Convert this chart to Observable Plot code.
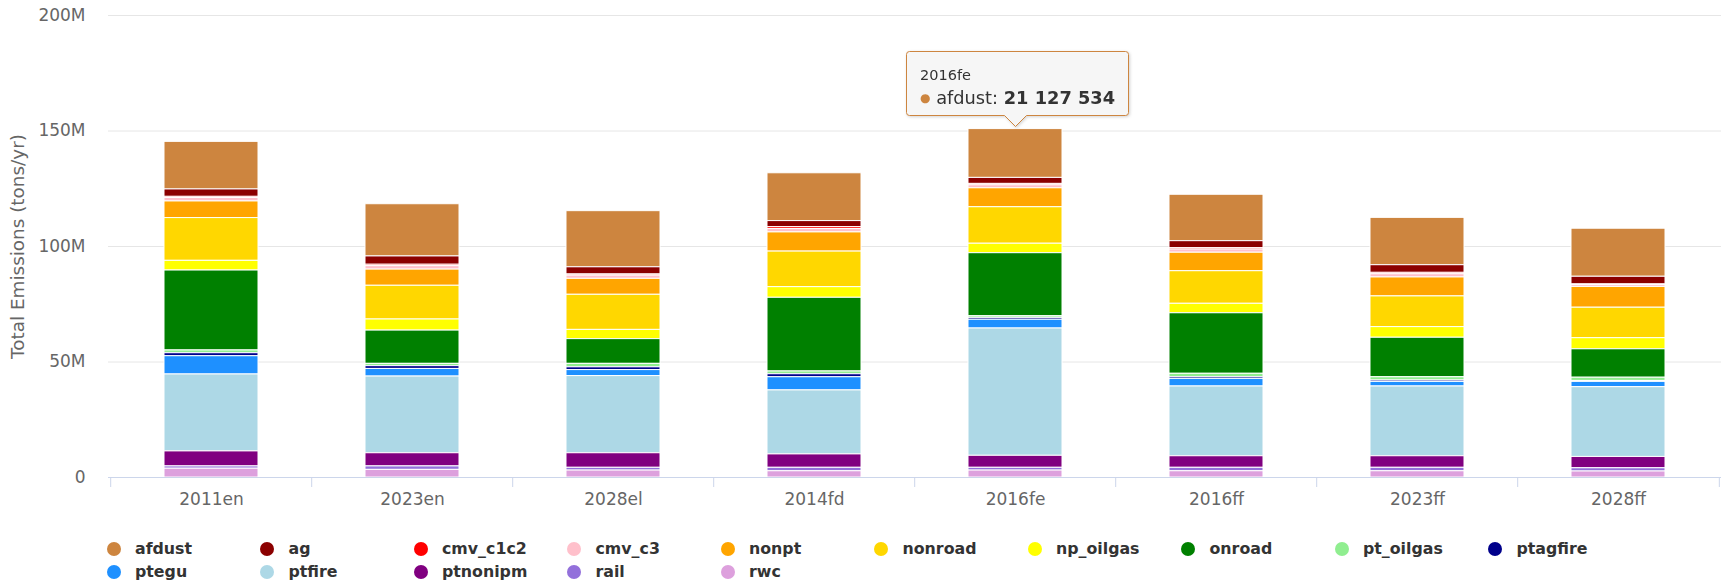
<!DOCTYPE html>
<html><head><meta charset="utf-8">
<script src="https://cdn.jsdelivr.net/npm/d3@7"></script>
<script src="https://cdn.jsdelivr.net/npm/@observablehq/plot@0.6"></script>
<style>
body{margin:0;background:#fff;font-family:"DejaVu Sans",sans-serif;}
#wrap{position:relative;width:1728px;height:583px;overflow:hidden;background:#fff}
#wrap svg.plot{position:absolute;left:0;top:0}
#legend{position:absolute;left:106.5px;top:537px;display:grid;grid-template-columns:repeat(10,153.5px);grid-auto-rows:23px}
.item{display:flex;align-items:center;font-weight:bold;font-size:15.8px;color:#333;white-space:nowrap}
.sym{width:14px;height:14px;border-radius:50%;margin-right:14.5px;flex:none}
#tip{position:absolute;filter:drop-shadow(1px 1px 1.5px rgba(0,0,0,0.18))}
</style></head><body><div id="wrap"></div>
<script>
// ---- data (values in millions of tons/yr) ----
const categories = ["2011en","2023en","2028el","2014fd","2016fe","2016ff","2023ff","2028ff"];
const sectors = ["afdust","ag","cmv_c1c2","cmv_c3","nonpt","nonroad","np_oilgas","onroad","pt_oilgas","ptagfire","ptegu","ptfire","ptnonipm","rail","rwc"];
const colors  = ["#CD853F","#8B0000","#FF0000","#FFC0CB","#FFA500","#FFD700","#FFFF00","#008000","#90EE90","#00008B","#1E90FF","#ADD8E6","#800080","#9370DB","#DDA0DD"];
const afdust    = [20.6, 22.6, 24.3, 20.7, 21.127534, 20.1, 20.5, 20.8];
const ag        = [3.2, 3.6, 3.1, 2.6, 2.6, 3.0, 3.3, 3.3];
const cmv_c1c2  = [0.5, 0.6, 0.5, 0.8, 0.6, 0.6, 0.6, 0.3];
const cmv_c3    = [1.5, 1.5, 1.4, 1.5, 1.3, 1.4, 1.4, 0.8];
const nonpt     = [7.2, 7.0, 6.9, 8.3, 8.2, 8.0, 8.2, 9.0];
const nonroad   = [18.5, 14.6, 15.2, 15.4, 15.8, 14.1, 13.3, 13.2];
const np_oilgas = [4.2, 4.8, 4.0, 4.6, 4.1, 4.1, 4.6, 4.8];
const onroad    = [34.6, 14.4, 10.7, 31.9, 27.3, 26.2, 17.1, 12.3];
const pt_oilgas = [1.2, 1.0, 1.5, 1.2, 0.7, 1.5, 1.4, 1.4];
const ptagfire  = [1.3, 1.2, 1.2, 1.3, 0.8, 0.7, 0.6, 0.4];
const ptegu     = [7.9, 3.3, 2.6, 5.7, 3.8, 3.3, 2.0, 2.3];
const ptfire    = [33.3, 33.2, 33.4, 27.7, 55.1, 30.2, 30.2, 30.2];
const ptnonipm  = [6.5, 5.7, 6.3, 5.8, 5.2, 5.0, 5.0, 4.9];
const rail      = [1.0, 1.5, 1.2, 1.5, 1.2, 1.5, 1.5, 1.4];
const rwc       = [3.8, 3.3, 3.0, 2.7, 3.0, 2.7, 2.7, 2.6];
const yTicks = [0, 50e6, 100e6, 150e6, 200e6];
const yTitle = "Total Emissions (tons/yr)";
const tooltipCategory = "2016fe";
const tooltipSector = "afdust";

const series = {afdust, ag, cmv_c1c2, cmv_c3, nonpt, nonroad, np_oilgas, onroad, pt_oilgas, ptagfire, ptegu, ptfire, ptnonipm, rail, rwc};
const rows = [];
for (const s of sectors) series[s].forEach((v, i) => rows.push({cat: categories[i], sector: s, value: Math.round(v * 1e6)}));

const W = 1728, H = 530, ML = 108, MR = 7, MT = 15, MB = 53;
const step = (W - ML - MR) / categories.length;
const fmtY = d => d === 0 ? "0" : (d / 1e6) + "M";

const chart = Plot.plot({
  width: W, height: H, marginLeft: ML, marginRight: MR, marginTop: MT, marginBottom: MB,
  style: {fontFamily: "DejaVu Sans, sans-serif", fontSize: "17px", color: "#666", background: "transparent", overflow: "visible"},
  x: {domain: categories, paddingInner: 0.53, paddingOuter: 0.265, label: null},
  y: {domain: [0, 200e6], label: null},
  color: {domain: sectors, range: colors},
  marks: [
    Plot.gridY(yTicks, {stroke: "#e6e6e6", strokeOpacity: 1, strokeWidth: 1}),
    Plot.barY(rows, Plot.stackY({x: "cat", y: "value", fill: "sector", order: [...sectors].reverse(), stroke: "white", strokeWidth: 1})),
    Plot.ruleY([0], {stroke: "#ccd6eb", strokeWidth: 1}),
    Plot.axisX(categories, {tickSize: 10, tickFormat: () => "", dx: -step / 2, stroke: "#ccd6eb"}),
    Plot.axisX([categories[categories.length - 1]], {tickSize: 10, tickFormat: () => "", dx: step / 2, stroke: "#ccd6eb"}),
    Plot.axisX(categories, {tickSize: 0, tickPadding: 15, fill: "#666", fontSize: 17}),
    Plot.axisY(yTicks, {tickSize: 0, tickPadding: 23, tickFormat: fmtY, fill: "#666", fontSize: 17, label: null}),
    Plot.text([yTitle], {frameAnchor: "left", textAnchor: "middle", lineAnchor: "middle", rotate: -90, dx: -90, fontSize: 18.4, fill: "#666"})
  ]
});
chart.classList.add("plot");
const wrap = document.getElementById("wrap");
wrap.appendChild(chart);

// legend
const legend = document.createElement("div");
legend.id = "legend";
sectors.forEach((s, i) => {
  const it = document.createElement("div");
  it.className = "item";
  it.innerHTML = `<span class="sym" style="background:${colors[i]}"></span><span>${s}</span>`;
  legend.appendChild(it);
});
wrap.appendChild(legend);

// tooltip positioned via scales
const xs = chart.scale("x"), ys = chart.scale("y");
const ci = categories.indexOf(tooltipCategory);
const total = sectors.reduce((a, s) => a + Math.round(series[s][ci] * 1e6), 0);
const cx = xs.apply(tooltipCategory) + xs.bandwidth / 2;
const topY = ys.apply(total);
const val = Math.round(series[tooltipSector][ci] * 1e6);
const fmtVal = d3.formatLocale({decimal: ".", thousands: " ", grouping: [3], currency: ["", ""]}).format(",");
const tw = 222, th = 64, pointer = 11, r = 3;
const leftOff = 109;
const apexY = topY - 2;
const boxTop = apexY - pointer - th;
const tip = document.createElementNS("http://www.w3.org/2000/svg", "svg");
tip.id = "tip";
tip.setAttribute("width", tw + 4); tip.setAttribute("height", th + pointer + 4);
tip.style.left = (cx - leftOff - 0.5) + "px"; tip.style.top = (boxTop - 0.5) + "px";
const px = leftOff + 0.5, by = th + 0.5, x0 = 0.5, y0 = 0.5, x1 = tw + 0.5;
const d = `M${x0 + r},${y0} H${x1 - r} Q${x1},${y0} ${x1},${y0 + r} V${by - r} Q${x1},${by} ${x1 - r},${by} H${px + pointer} L${px},${by + pointer} L${px - pointer},${by} H${x0 + r} Q${x0},${by} ${x0},${by - r} V${y0 + r} Q${x0},${y0} ${x0 + r},${y0} Z`;
const sc = colors[sectors.indexOf(tooltipSector)];
tip.innerHTML = `<path d="${d}" fill="rgba(249,249,249,0.92)" stroke="${sc}" stroke-width="1"/>
<text x="14" y="29" font-family="DejaVu Sans" font-size="14.5" fill="#333">${tooltipCategory}</text>
<text x="14" y="53" font-family="DejaVu Sans" font-size="17.8" fill="#333"><tspan fill="${sc}" font-size="12" dy="-2">●</tspan><tspan dy="2"> ${tooltipSector}: </tspan><tspan font-weight="bold">${fmtVal(val)}</tspan></text>`;
wrap.appendChild(tip);
</script></body></html>
